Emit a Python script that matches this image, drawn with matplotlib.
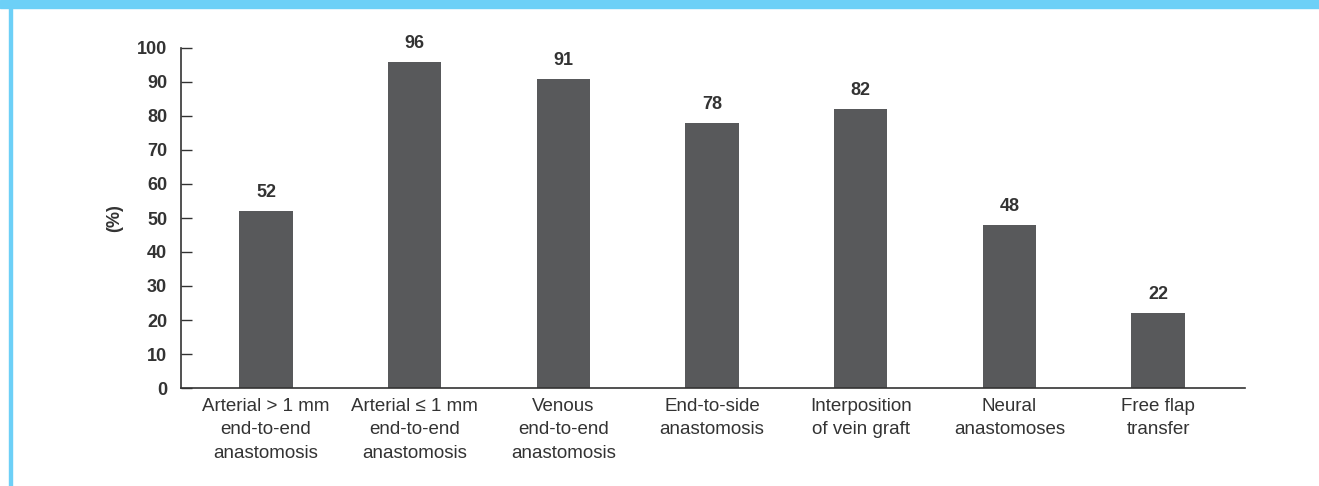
import numpy as np
import matplotlib
matplotlib.use("Agg")
import matplotlib.pyplot as plt
from matplotlib.patches import Rectangle

# data
categories = ["Arterial > 1 mm\nend-to-end\nanastomosis",
              "Arterial \u2264 1 mm\nend-to-end\nanastomosis",
              "Venous\nend-to-end\nanastomosis",
              "End-to-side\nanastomosis",
              "Interposition\nof vein graft",
              "Neural\nanastomoses",
              "Free flap\ntransfer"]
values = [52, 96, 91, 78, 82, 48, 22]
yticks = [0, 10, 20, 30, 40, 50, 60, 70, 80, 90, 100]

plt.rcParams['font.family'] = ['Liberation Sans', 'DejaVu Sans']
dark = '#333333'
bar_col = '#58595b'
cyan = '#6dd0f7'

fig = plt.figure(figsize=(13.19, 4.86), dpi=100)
ax = fig.add_axes([181/1319, 1 - 388/486, (1245-181)/1319, (388-48)/486])

x = np.arange(len(values))
ax.bar(x, values, width=0.357, color=bar_col, zorder=2)
for xi, v in zip(x, values):
    ax.annotate(str(v), (xi, v), xytext=(0, 7), textcoords='offset points',
                ha='center', va='bottom', fontsize=13, fontweight='bold', color=dark)

ax.set_xlim(-0.572, 6.585)
ax.set_ylim(0, 100)
ax.set_yticks(yticks)
ax.set_yticklabels([str(t) for t in yticks], fontsize=13, fontweight='bold', color=dark)
ax.set_xticks(x)
ax.set_xticklabels(categories, fontsize=13.5, color=dark, linespacing=1.5)
ax.tick_params(axis='y', direction='in', length=8, width=1, color=dark, pad=10)
ax.tick_params(axis='x', length=0, pad=7)
for s in ['top', 'right']:
    ax.spines[s].set_visible(False)
for s in ['left', 'bottom']:
    ax.spines[s].set_color(dark)
    ax.spines[s].set_linewidth(1.2)
ax.set_ylabel('(%)', fontsize=13, fontweight='bold', color=dark, labelpad=10)

# cyan frame: top band and left rule
fig.patches.append(Rectangle((0, 1 - 8/486), 1, 8/486, transform=fig.transFigure,
                             color=cyan, zorder=0))
fig.patches.append(Rectangle((9/1319, 0), 2.5/1319, 1 - 8/486, transform=fig.transFigure,
                             color=cyan, zorder=0))

fig.savefig('out.png', dpi=100)
